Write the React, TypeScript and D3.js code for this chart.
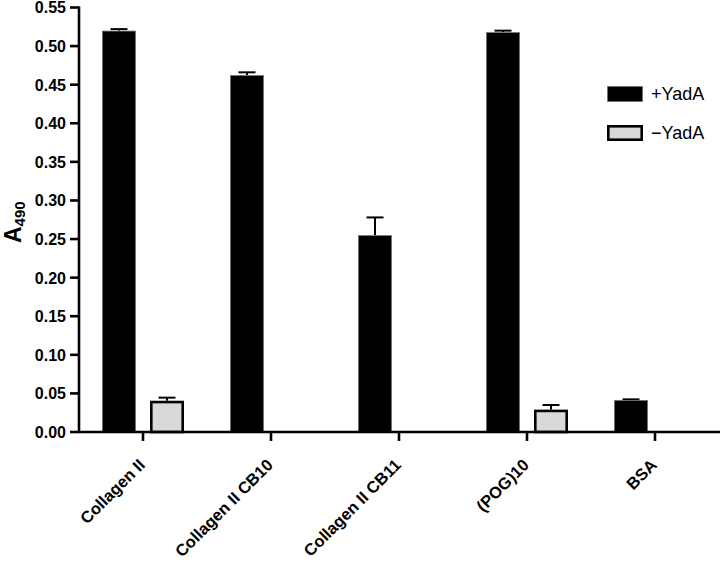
import React from "react";
import * as d3 from "d3";

const categories = ["Collagen II", "Collagen II CB10", "Collagen II CB11", "(POG)10", "BSA"];
const seriesNames = ["+YadA", "\u2212YadA"];
const plusValues = [0.520, 0.4625, 0.255, 0.518, 0.0415];
const plusErrors = [0.002, 0.0035, 0.023, 0.002, 0.0008];
const minusValues = [0.0405, 0, 0, 0.029, 0];
const minusErrors = [0.004, 0, 0, 0.006, 0];
const yTicks = [0, 0.05, 0.1, 0.15, 0.2, 0.25, 0.3, 0.35, 0.4, 0.45, 0.5, 0.55];

const W = 720;
const H = 562;
const FONT = "'Liberation Sans', Arial, Helvetica, sans-serif";

export default function App() {
  const x0 = d3.scaleBand<string>().domain(categories).range([79, 719]).padding(0);
  const x1 = d3
    .scaleBand<string>()
    .domain(seriesNames)
    .range([0, x0.bandwidth()])
    .paddingInner(0.2917)
    .paddingOuter(0.479);
  const y = d3.scaleLinear().domain([0, 0.55]).range([432, 7.5]);

  const series = [
    { name: seriesNames[0], values: plusValues, errors: plusErrors, fill: "#000000", stroke: "#777", sw: 0.8 },
    { name: seriesNames[1], values: minusValues, errors: minusErrors, fill: "#d9d9d9", stroke: "#000", sw: 2.6 },
  ];

  const bw = x1.bandwidth();
  const capW = 17;

  return (
    <svg width={W} height={H} style={{ position: "absolute", left: 0, top: 0, background: "#fff" }}>
      {/* bars */}
      {series.map((s) =>
        categories.map((c, i) => {
          const v = s.values[i];
          if (v <= 0) return null;
          const bx = (x0(c) as number) + (x1(s.name) as number);
          const inset = s.sw / 2;
          const top = y(v);
          const err = s.errors[i];
          const cx = bx + bw / 2;
          return (
            <g key={s.name + c}>
              {err > 0 && (
                <g stroke="#000" strokeWidth={2}>
                  <line x1={cx} x2={cx} y1={top} y2={y(v + err)} />
                  <line x1={cx - capW / 2} x2={cx + capW / 2} y1={y(v + err)} y2={y(v + err)} />
                </g>
              )}
              <rect
                x={bx + inset}
                y={top + inset}
                width={bw - 2 * inset}
                height={y(0) - top - inset}
                fill={s.fill}
                stroke={s.stroke}
                strokeWidth={s.sw}
              />
            </g>
          );
        })
      )}

      {/* y axis */}
      <line x1={79} x2={79} y1={y(0.55) - 1} y2={y(0) + 1} stroke="#000" strokeWidth={2.6} />
      {yTicks.map((t) => (
        <g key={t}>
          <line x1={70} x2={79} y1={y(t)} y2={y(t)} stroke="#000" strokeWidth={2.6} />
          <text
            x={66}
            y={y(t)}
            dy="0.37em"
            textAnchor="end"
            fontFamily={FONT}
            fontWeight="bold"
            fontSize={16}
            fill="#000"
          >
            {d3.format(".2f")(t)}
          </text>
        </g>
      ))}

      {/* x axis */}
      <line x1={78} x2={720} y1={y(0)} y2={y(0)} stroke="#000" strokeWidth={2.6} />
      {categories.map((c) => {
        const cx = (x0(c) as number) + x0.bandwidth() / 2;
        return (
          <g key={c}>
            <line x1={cx} x2={cx} y1={y(0)} y2={y(0) + 9} stroke="#000" strokeWidth={2.6} />
            <text
              transform={`translate(${cx + 3},${y(0) + 34}) rotate(-45)`}
              textAnchor="end"
              fontFamily={FONT}
              fontWeight="bold"
              fontSize={16.5}
              fill="#000"
            >
              {c}
            </text>
          </g>
        );
      })}

      {/* y axis label */}
      <text transform="translate(21,243) rotate(-90)" fontFamily={FONT} fontWeight="bold" fill="#000">
        <tspan fontSize={23}>A</tspan>
        <tspan fontSize={15} dy={4}>490</tspan>
      </text>

      {/* legend */}
      {series.map((s, i) => (
        <g key={s.name} transform={`translate(607,${86 + i * 39})`}>
          <rect
            x={s.sw / 2}
            y={s.sw / 2}
            width={36 - s.sw}
            height={16 - s.sw}
            fill={s.fill}
            stroke={s.stroke}
            strokeWidth={s.sw}
          />
          <text x={44} y={8} dy="0.36em" fontFamily={FONT} fontSize={18} fill="#000">
            {s.name}
          </text>
        </g>
      ))}
    </svg>
  );
}
